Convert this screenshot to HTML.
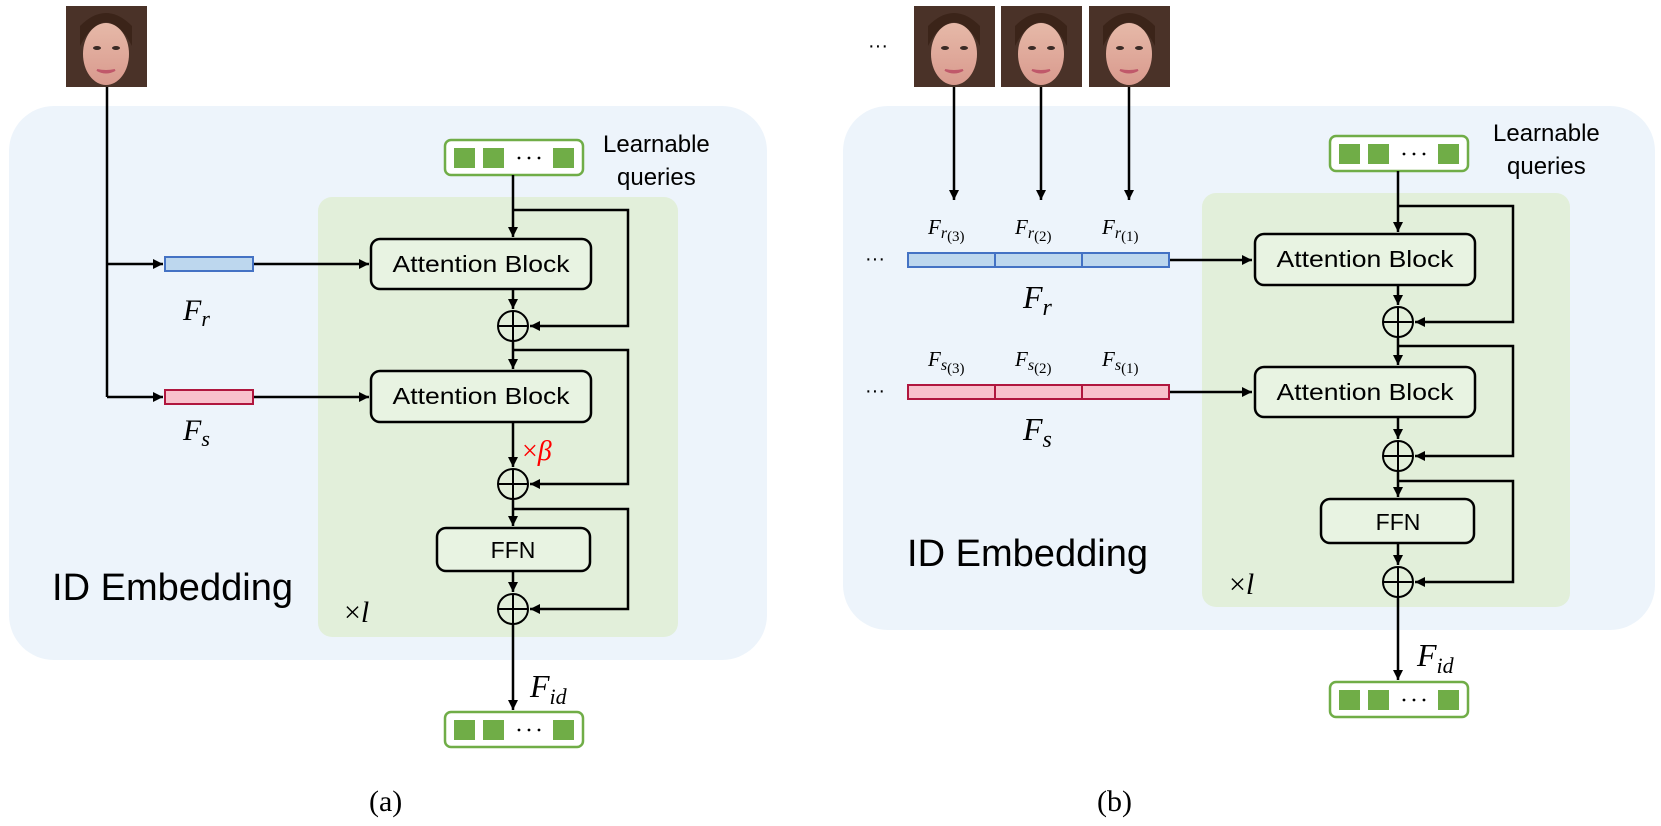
<!DOCTYPE html>
<html><head><meta charset="utf-8"><style>
html,body{margin:0;padding:0;background:#fff;}
svg{display:block;}
.cm{font-family:"Comic Sans MS","Liberation Sans",sans-serif;}
.mi{font-family:"Liberation Serif",serif;font-style:italic;}
</style></head><body>
<svg width="1661" height="826" viewBox="0 0 1661 826" xmlns="http://www.w3.org/2000/svg">
<defs>
<marker id="ar" viewBox="0 0 10 10" refX="10" refY="5" markerWidth="10" markerHeight="10" markerUnits="userSpaceOnUse" orient="auto"><path d="M0,0 L10,5 L0,10 z" fill="#000"/></marker>
<linearGradient id="skin" x1="0" y1="0" x2="0" y2="1"><stop offset="0" stop-color="#e6b9a8"/><stop offset="1" stop-color="#d99a8e"/></linearGradient>
<g id="face">
<rect x="0" y="0" width="81" height="81" fill="#4a3228"/>
<ellipse cx="40" cy="48" rx="23" ry="31" fill="url(#skin)"/>
<path d="M14,20 Q40,-6 66,20 L66,40 Q55,18 40,16 Q25,18 14,40z" fill="#3b2419"/>
<ellipse cx="31" cy="42" rx="4" ry="2" fill="#3a2a25"/><ellipse cx="50" cy="42" rx="4" ry="2" fill="#3a2a25"/>
<path d="M31,64 Q40,69 49,64 Q40,66 31,64z" fill="#c0586a" stroke="#c0586a" stroke-width="2"/>
</g>
<g id="qbox">
<rect x="0" y="0" width="138" height="35" rx="6" fill="#fff" stroke="#70ad47" stroke-width="2.5"/>
<rect x="9" y="8" width="21" height="20" fill="#70ad47"/><rect x="38" y="8" width="21" height="20" fill="#70ad47"/>
<rect x="108" y="8" width="21" height="20" fill="#70ad47"/>
<circle cx="74" cy="18" r="1.4" fill="#000"/><circle cx="84" cy="18" r="1.4" fill="#000"/><circle cx="94" cy="18" r="1.4" fill="#000"/>
</g>
</defs>

<!-- ============ (a) ============ -->
<rect x="9" y="106" width="758" height="554" rx="45" fill="#edf4fb"/>
<rect x="318" y="197" width="360" height="440" rx="14" fill="#e2efda"/>
<use href="#face" x="66" y="6"/>
<use href="#qbox" x="445" y="140"/>
<text class="cm" x="603" y="152" font-size="24">Learnable</text>
<text class="cm" x="617" y="185" font-size="24">queries</text>

<g stroke="#000" stroke-width="2.5" fill="none">
<path d="M107,87 V397"/>
<path d="M107,264 H163" marker-end="url(#ar)"/>
<path d="M107,397 H163" marker-end="url(#ar)"/>
<path d="M253,264 H369" marker-end="url(#ar)"/>
<path d="M253,397 H369" marker-end="url(#ar)"/>
<path d="M513,175 V237" marker-end="url(#ar)"/>
<path d="M513,210 H628 V326 H530" marker-end="url(#ar)"/>
<path d="M513,289 V309" marker-end="url(#ar)"/>
<path d="M513,341 V369" marker-end="url(#ar)"/>
<path d="M513,350 H628 V484 H530" marker-end="url(#ar)"/>
<path d="M513,422 V467" marker-end="url(#ar)"/>
<path d="M513,499 V526" marker-end="url(#ar)"/>
<path d="M513,509 H628 V609 H530" marker-end="url(#ar)"/>
<path d="M513,571 V592" marker-end="url(#ar)"/>
<path d="M513,624 V710" marker-end="url(#ar)"/>
</g>
<rect x="165" y="257" width="88" height="14" fill="#bdd7ee" stroke="#4472c4" stroke-width="2"/>
<rect x="165" y="390" width="88" height="14" fill="#f8c1cc" stroke="#b0163e" stroke-width="2"/>
<text class="mi" x="183" y="320" font-size="30">F<tspan font-size="22" dy="6">r</tspan></text>
<text class="mi" x="183" y="440" font-size="30">F<tspan font-size="22" dy="6">s</tspan></text>

<g stroke="#000" stroke-width="2.5" fill="#e8f3e2">
<rect x="371" y="239" width="220" height="50" rx="9"/>
<rect x="371" y="371" width="220" height="51" rx="9"/>
<rect x="437" y="528" width="153" height="43" rx="9"/>
</g>
<g stroke="#000" stroke-width="2" fill="none">
<circle cx="513" cy="326" r="15"/><path d="M498,326 H528 M513,311 V341"/>
<circle cx="513" cy="484" r="15"/><path d="M498,484 H528 M513,469 V499"/>
<circle cx="513" cy="609" r="15"/><path d="M498,609 H528 M513,594 V624"/>
</g>
<text class="cm" x="481" y="272" font-size="23" text-anchor="middle" textLength="177" lengthAdjust="spacingAndGlyphs">Attention Block</text>
<text class="cm" x="481" y="404" font-size="23" text-anchor="middle" textLength="177" lengthAdjust="spacingAndGlyphs">Attention Block</text>
<text class="cm" x="513" y="558" font-size="23" text-anchor="middle">FFN</text>
<text x="522" y="460" font-size="28" fill="#ff0000" font-family="Liberation Serif,serif">×<tspan font-style="italic">β</tspan></text>
<text x="344" y="622" font-size="30" font-family="Liberation Serif,serif">×<tspan font-style="italic">l</tspan></text>
<text class="mi" x="530" y="697" font-size="32">F<tspan font-size="22" dy="7">id</tspan></text>
<use href="#qbox" x="445" y="712"/>
<text class="cm" x="52" y="600" font-size="38" textLength="241" lengthAdjust="spacingAndGlyphs">ID Embedding</text>
<text x="369" y="811" font-size="30" font-family="Liberation Serif,serif">(a)</text>

<!-- ============ (b) ============ -->
<rect x="843" y="106" width="812" height="524" rx="45" fill="#edf4fb"/>
<rect x="1202" y="193" width="368" height="414" rx="14" fill="#e2efda"/>
<use href="#face" x="914" y="6"/>
<use href="#face" x="1001" y="6"/>
<use href="#face" x="1089" y="6"/>
<text x="868" y="52" font-size="20" font-family="Liberation Sans,sans-serif">···</text>
<use href="#qbox" x="1330" y="136"/>
<text class="cm" x="1493" y="141" font-size="24">Learnable</text>
<text class="cm" x="1507" y="174" font-size="24">queries</text>

<g stroke="#000" stroke-width="2.5" fill="none">
<path d="M954,87 V200" marker-end="url(#ar)"/>
<path d="M1041,87 V200" marker-end="url(#ar)"/>
<path d="M1129,87 V200" marker-end="url(#ar)"/>
<path d="M1169,260 H1252" marker-end="url(#ar)"/>
<path d="M1169,392 H1252" marker-end="url(#ar)"/>
<path d="M1398,171 V232" marker-end="url(#ar)"/>
<path d="M1398,206 H1513 V322 H1415" marker-end="url(#ar)"/>
<path d="M1398,285 V305" marker-end="url(#ar)"/>
<path d="M1398,337 V365" marker-end="url(#ar)"/>
<path d="M1398,346 H1513 V456 H1415" marker-end="url(#ar)"/>
<path d="M1398,417 V439" marker-end="url(#ar)"/>
<path d="M1398,471 V497" marker-end="url(#ar)"/>
<path d="M1398,481 H1513 V582 H1415" marker-end="url(#ar)"/>
<path d="M1398,543 V565" marker-end="url(#ar)"/>
<path d="M1398,597 V680" marker-end="url(#ar)"/>
</g>
<g stroke-width="2">
<rect x="908" y="253" width="261" height="14" fill="#bdd7ee" stroke="#4472c4"/>
<path d="M995,253 V267 M1082,253 V267" stroke="#4472c4"/>
<rect x="908" y="385" width="261" height="14" fill="#f8c1cc" stroke="#b0163e"/>
<path d="M995,385 V399 M1082,385 V399" stroke="#b0163e"/>
</g>
<text x="865" y="265" font-size="20" font-family="Liberation Sans,sans-serif">···</text>
<text x="865" y="397" font-size="20" font-family="Liberation Sans,sans-serif">···</text>
<g class="mi" font-size="21">
<text x="928" y="234">F<tspan font-size="16" dy="4">r</tspan><tspan font-style="normal" font-size="15" dy="3">(3)</tspan></text>
<text x="1015" y="234">F<tspan font-size="16" dy="4">r</tspan><tspan font-style="normal" font-size="15" dy="3">(2)</tspan></text>
<text x="1102" y="234">F<tspan font-size="16" dy="4">r</tspan><tspan font-style="normal" font-size="15" dy="3">(1)</tspan></text>
<text x="928" y="366">F<tspan font-size="16" dy="4">s</tspan><tspan font-style="normal" font-size="15" dy="3">(3)</tspan></text>
<text x="1015" y="366">F<tspan font-size="16" dy="4">s</tspan><tspan font-style="normal" font-size="15" dy="3">(2)</tspan></text>
<text x="1102" y="366">F<tspan font-size="16" dy="4">s</tspan><tspan font-style="normal" font-size="15" dy="3">(1)</tspan></text>
</g>
<text class="mi" x="1023" y="308" font-size="32">F<tspan font-size="24" dy="7">r</tspan></text>
<text class="mi" x="1023" y="440" font-size="32">F<tspan font-size="24" dy="7">s</tspan></text>

<g stroke="#000" stroke-width="2.5" fill="#e8f3e2">
<rect x="1255" y="234" width="220" height="51" rx="9"/>
<rect x="1255" y="367" width="220" height="50" rx="9"/>
<rect x="1321" y="499" width="153" height="44" rx="9"/>
</g>
<g stroke="#000" stroke-width="2" fill="none">
<circle cx="1398" cy="322" r="15"/><path d="M1383,322 H1413 M1398,307 V337"/>
<circle cx="1398" cy="456" r="15"/><path d="M1383,456 H1413 M1398,441 V471"/>
<circle cx="1398" cy="582" r="15"/><path d="M1383,582 H1413 M1398,567 V597"/>
</g>
<text class="cm" x="1365" y="267" font-size="23" text-anchor="middle" textLength="177" lengthAdjust="spacingAndGlyphs">Attention Block</text>
<text class="cm" x="1365" y="400" font-size="23" text-anchor="middle" textLength="177" lengthAdjust="spacingAndGlyphs">Attention Block</text>
<text class="cm" x="1398" y="530" font-size="23" text-anchor="middle">FFN</text>
<text x="1229" y="594" font-size="30" font-family="Liberation Serif,serif">×<tspan font-style="italic">l</tspan></text>
<text class="mi" x="1417" y="666" font-size="32">F<tspan font-size="22" dy="7">id</tspan></text>
<use href="#qbox" x="1330" y="682"/>
<text class="cm" x="907" y="566" font-size="38" textLength="241" lengthAdjust="spacingAndGlyphs">ID Embedding</text>
<text x="1097" y="811" font-size="30" font-family="Liberation Serif,serif">(b)</text>
</svg>
</body></html>
